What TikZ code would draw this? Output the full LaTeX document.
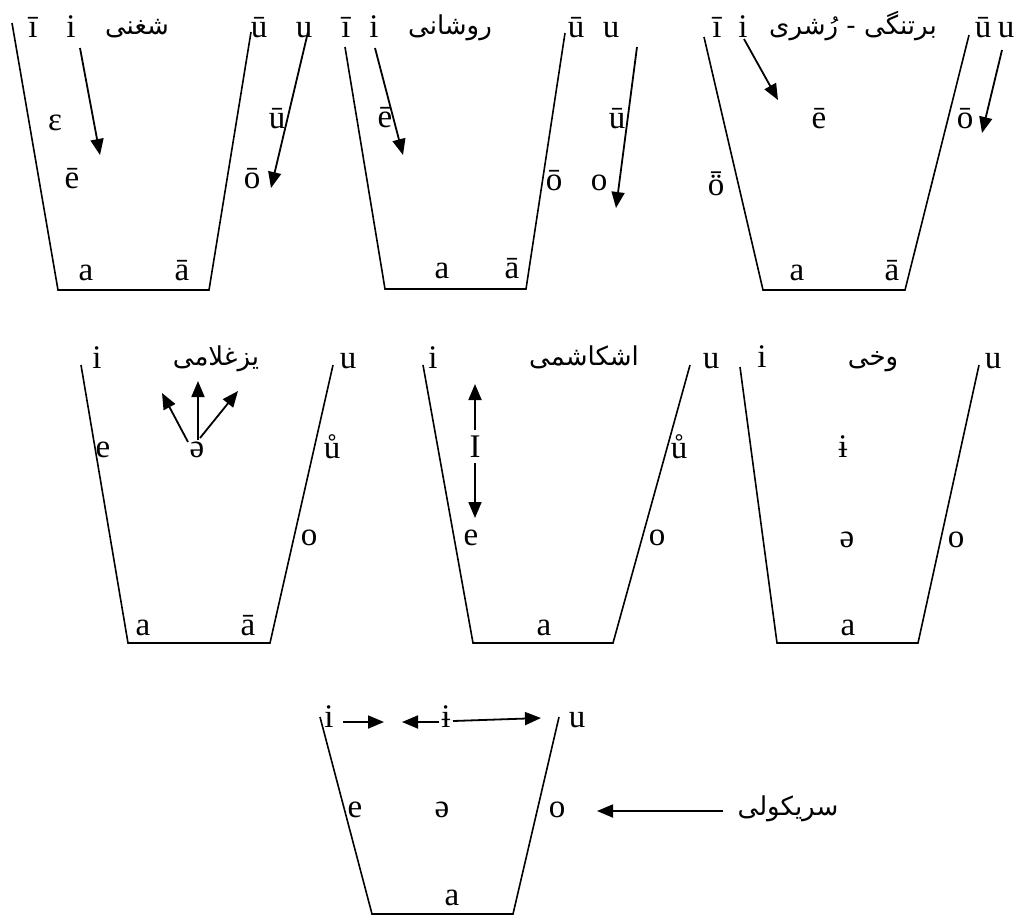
\documentclass[tikz,border=0pt]{standalone}
\usepackage{fontspec}
\setmainfont{Liberation Serif}
\newfontfamily\arabicfont[Script=Arabic]{DejaVu Sans}
\TeXXeTstate=1
\usetikzlibrary{arrows.meta}
\begin{document}
\begin{tikzpicture}[x=1pt,y=-1pt,
  v/.style={anchor=base,inner sep=0pt,font=\fontsize{33}{33}\selectfont},
  ar/.style={anchor=base,inner sep=0pt,font={\arabicfont\fontsize{26}{26}\selectfont}},
  frame/.style={line width=1.6pt},
  arr/.style={line width=1.8pt,-{Triangle[length=16pt,width=13pt]}}]
\useasboundingbox[fill=white] (0,0) rectangle (1024,916);

% ---------- frames ----------
\draw[frame] (12,23) -- (58,290) -- (209,290) -- (251,32);
\draw[frame] (345,47) -- (385,289) -- (526,289) -- (565,33);
\draw[frame] (704,37) -- (763,290) -- (905,290) -- (969,35);
\draw[frame] (81,365) -- (128,643) -- (270,643) -- (333,365);
\draw[frame] (423,365) -- (473,643) -- (613,643) -- (690,365);
\draw[frame] (740,367) -- (777,643) -- (918,643) -- (979,365);
\draw[frame] (320,717) -- (372,914) -- (513,914) -- (559,717);

% ---------- T1 Shughni ----------
\node[v] (t1ib) at (33,37) {ī};
\node[v] (t1i) at (71,37) {i};
\node[ar] (t1n) at (137,34) {\beginR شغنی\endR};
\node[v] (t1ub) at (259,37) {ū};
\node[v] (t1u) at (304,37) {u};
\node[v] (t1eps) at (55,130) {ɛ};
\node[v] (t1ub2) at (277,128) {ū};
\node[v] (t1eb) at (72,188) {ē};
\node[v] (t1ob) at (252,188) {ō};
\node[v] (t1a) at (86,280) {a};
\node[v] (t1ab) at (182,280) {ā};
\coordinate (t1s1) at (80,48); \coordinate (t1e1) at (100,155);
\coordinate (t1s2) at (308,32); \coordinate (t1e2) at (271,188);
\draw[arr] (t1s1) -- (t1e1);
\draw[arr] (t1s2) -- (t1e2);

% ---------- T2 Roshani ----------
\node[v] (t2ib) at (346,37) {ī};
\node[v] (t2i) at (374,37) {i};
\node[ar] (t2n) at (450,34) {\beginR روشانی\endR};
\node[v] (t2ub) at (576,37) {ū};
\node[v] (t2u) at (611,37) {u};
\node[v] (t2eb) at (385,127) {ē};
\node[v] (t2ub2) at (617,128) {ū};
\node[v] (t2ob) at (554,190) {ō};
\node[v] (t2o) at (599,190) {o};
\node[v] (t2a) at (442,278) {a};
\node[v] (t2ab) at (512,278) {ā};
\coordinate (t2s1) at (375,48); \coordinate (t2e1) at (403,155);
\coordinate (t2s2) at (637,47); \coordinate (t2e2) at (616,208);
\draw[arr] (t2s1) -- (t2e1);
\draw[arr] (t2s2) -- (t2e2);

% ---------- T3 Bartangi - Roshorvi ----------
\node[v] (t3ib) at (717,37) {ī};
\node[v] (t3i) at (743,37) {i};
\node[ar] (t3n) at (853,34) {\beginR برتنگی - رُشری\endR};
\node[v] (t3ub) at (983,37) {ū};
\node[v] (t3u) at (1006,37) {u};
\node[v] (t3eb) at (819,128) {ē};
\node[v] (t3ob) at (965,128) {ō};
\node[v] (t3oo) at (716,195) {ȫ};
\node[v] (t3a) at (797,280) {a};
\node[v] (t3ab) at (892,280) {ā};
\coordinate (t3s1) at (744,39); \coordinate (t3e1) at (778,100);
\coordinate (t3s2) at (1002,50); \coordinate (t3e2) at (982,133);
\draw[arr] (t3s1) -- (t3e1);
\draw[arr] (t3s2) -- (t3e2);

% ---------- T4 Yazghulami ----------
\node[v] (t4i) at (97,368) {i};
\node[ar] (t4n) at (216,365) {\beginR یزغلامی\endR};
\node[v] (t4u) at (348,368) {u};
\node[v] (t4e) at (103,457) {e};
\node[v] (t4sch) at (197,457) {ə};
\node[v] (t4ur) at (332,458) {ů};
\node[v] (t4o) at (309,545) {o};
\node[v] (t4a) at (143,635) {a};
\node[v] (t4ab) at (248,635) {ā};
\coordinate (t4s1) at (188,442); \coordinate (t4e1) at (162,393);
\coordinate (t4s2) at (198,440); \coordinate (t4e2) at (198,381);
\coordinate (t4s3) at (200,438); \coordinate (t4e3) at (238,391);
\draw[arr] (t4s1) -- (t4e1);
\draw[arr] (t4s2) -- (t4e2);
\draw[arr] (t4s3) -- (t4e3);

% ---------- T5 Ishkashimi ----------
\node[v] (t5i) at (433,368) {i};
\node[ar] (t5n) at (584,365) {\beginR اشکاشمی\endR};
\node[v] (t5u) at (711,368) {u};
\node[v] (t5I) at (475,457) {I};
\node[v] (t5e) at (471,545) {e};
\node[v] (t5ur) at (679,458) {ů};
\node[v] (t5o) at (657,545) {o};
\node[v] (t5a) at (544,635) {a};
\coordinate (t5s1) at (475,430); \coordinate (t5e1) at (475,384);
\coordinate (t5s2) at (475,463); \coordinate (t5e2) at (475,518);
\draw[arr] (t5s1) -- (t5e1);
\draw[arr] (t5s2) -- (t5e2);

% ---------- T6 Wakhi ----------
\node[v] (t6i) at (762,367) {i};
\node[ar] (t6n) at (873,365) {\beginR وخی\endR};
\node[v] (t6u) at (993,368) {u};
\node[v] (t6ib) at (843,457) {ɨ};
\node[v] (t6sch) at (847,547) {ə};
\node[v] (t6o) at (956,547) {o};
\node[v] (t6a) at (848,635) {a};

% ---------- T7 Sarikoli ----------
\node[v] (t7i) at (329,727) {i};
\node[v] (t7ib) at (446,727) {ɨ};
\node[v] (t7u) at (577,727) {u};
\node[v] (t7e) at (355,817) {e};
\node[v] (t7sch) at (442,817) {ə};
\node[v] (t7o) at (557,817) {o};
\node[v] (t7a) at (452,905) {a};
\node[ar] (t7n) at (788,815) {\beginR سریکولی\endR};
\coordinate (t7s1) at (343,722); \coordinate (t7e1) at (384,722);
\coordinate (t7s2) at (439,722); \coordinate (t7e2) at (402,722);
\coordinate (t7s3) at (453,721); \coordinate (t7e3) at (541,718);
\coordinate (t7s4) at (723,811); \coordinate (t7e4) at (597,811);
\draw[arr] (t7s1) -- (t7e1);
\draw[arr] (t7s2) -- (t7e2);
\draw[arr] (t7s3) -- (t7e3);
\draw[arr] (t7s4) -- (t7e4);
\end{tikzpicture}
\end{document}
